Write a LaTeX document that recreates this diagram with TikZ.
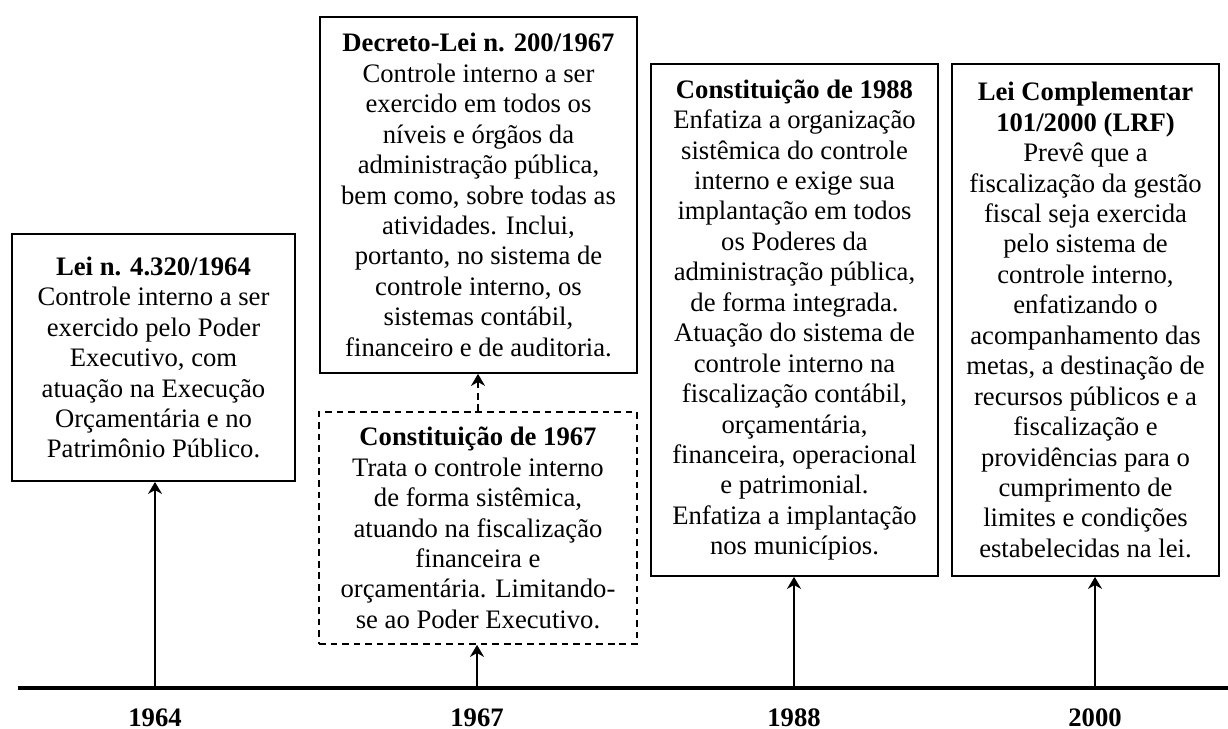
\documentclass[tikz,border=0pt]{standalone}
\usepackage{fontspec}
\setmainfont{Liberation Serif}
\usetikzlibrary{arrows.meta}

\begin{document}
\begin{tikzpicture}[line join=miter,>={Stealth[length=5.4pt,width=6.3pt]},x=0.45pt,y=-0.45pt,
  caixa/.style={draw,line width=0.8pt,align=center,inner sep=0pt,font=\fontsize{12}{13.7}\selectfont},
  seta/.style={->,line width=0.9pt},
  ano/.style={anchor=base,inner sep=0pt,font=\bfseries\fontsize{12}{13.7}\selectfont}]
\useasboundingbox (0,0) rectangle (1228,729);
% linha do tempo
\coordinate (inicio) at (18,688);
\coordinate (fim) at (1238,688);
\draw[line width=1.4pt,-{To[length=3.6pt,width=6pt]}] (inicio) -- (fim);
\coordinate (t1964) at (155,688);
\coordinate (t1967) at (477,688);
\coordinate (t1988) at (794,688);
\coordinate (t2000) at (1095,688);
\node[ano] (a1964) at (155,726) {1964};
\node[ano] (a1967) at (477,726) {1967};
\node[ano] (a1988) at (794,726) {1988};
\node[ano] (a2000) at (1095,726.5) {2000};
% caixas
\node[caixa,minimum width=127.4pt,minimum height=111.2pt] (lei4320) at (153.5,357.5)
  {{\bfseries Lei n. 4.320/1964}\\Controle interno a ser\\exercido pelo Poder\\Executivo, com\\atuação na Execução\\Orçamentária e no\\Patrimônio Público.};
\node[caixa,minimum width=142.6pt,minimum height=160.2pt] (dl200) at (478.5,195)
  {{\bfseries Decreto-Lei n. 200/1967}\\Controle interno a ser\\exercido em todos os\\níveis e órgãos da\\administração pública,\\bem como, sobre todas as\\atividades. Inclui,\\portanto, no sistema de\\controle interno, os\\sistemas contábil,\\financeiro e de auditoria.};
\node[caixa,dashed,dash pattern=on 3pt off 2.2pt,minimum width=143.1pt,minimum height=104.4pt] (cf1967) at (478,528)
  {{\bfseries Constituição de 1967}\\Trata o controle interno\\de forma sistêmica,\\atuando na fiscalização\\financeira e\\orçamentária. Limitando-\\se ao Poder Executivo.};
\node[caixa,minimum width=129.2pt,minimum height=230.4pt] (cf1988) at (794.5,320)
  {{\bfseries Constituição de 1988}\\Enfatiza a organização\\sistêmica do controle\\interno e exige sua\\implantação em todos\\os Poderes da\\administração pública,\\de forma integrada.\\Atuação do sistema de\\controle interno na\\fiscalização contábil,\\orçamentária,\\financeira, operacional\\e patrimonial.\\Enfatiza a implantação\\nos municípios.};
\node[caixa,minimum width=120.2pt,minimum height=230.4pt] (lc101) at (1085.5,320)
  {{\bfseries Lei Complementar}\\{\bfseries 101/2000 (LRF)}\\Prevê que a\\fiscalização da gestão\\fiscal seja exercida\\pelo sistema de\\controle interno,\\enfatizando o\\acompanhamento das\\metas, a destinação de\\recursos públicos e a\\fiscalização e\\providências para o\\cumprimento de\\limites e condições\\estabelecidas na lei.};
% setas
\draw[seta] (t1964) -- (t1964 |- lei4320.south);
\draw[seta] (t1967) -- (t1967 |- cf1967.south);
\draw[seta,dashed,dash pattern=on 3pt off 2.2pt] (cf1967.north) -- (cf1967.north |- dl200.south);
\draw[seta] (t1988) -- (t1988 |- cf1988.south);
\draw[seta] (t2000) -- (t2000 |- lc101.south);
\end{tikzpicture}
\end{document}
